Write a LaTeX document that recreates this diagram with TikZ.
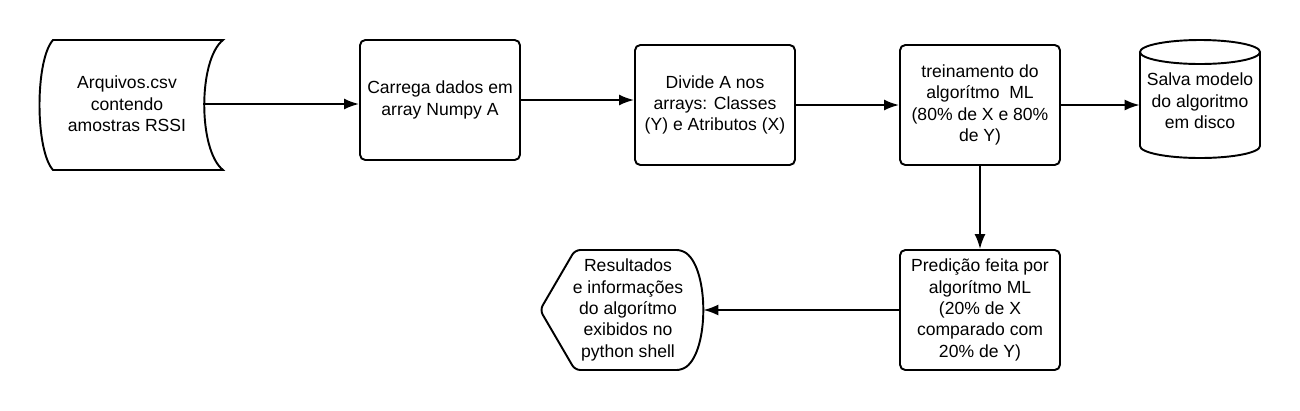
\documentclass[tikz,border=0pt]{standalone}
\usepackage{fontspec}
\setmainfont{Liberation Sans}
\usetikzlibrary{positioning, arrows.meta}
\tikzset{
	txt/.style={align=center, font=\fontsize{10}{12.2}\selectfont},
	process/.style={txt, draw, line width=1.1pt, rounded corners=3pt, minimum width=3.2cm, minimum height=2.4cm},
	outline/.style={line width=1.1pt},
	flow/.style={line width=1.1pt, -{Latex[length=3mm, width=2.2mm]}},
}

\begin{document}
\begin{tikzpicture}[x=0.02cm, y=-0.02cm]
		\useasboundingbox (0,0) rectangle (1300,410);

		% stored data
		\draw[outline] (53,40) -- (223,40) .. controls (198,60) and (198,150) .. (223,170) -- (53,170) .. controls (35,150) and (35,60) .. cycle;
		\node[txt, minimum width=3.04cm] (csv) at (127,104) {Arquivos.csv\\contendo\\amostras RSSI};

		\node[process] (load) at (440,100) {Carrega dados em\\array Numpy A};
		\node[process] (split) at (715,105) {Divide A nos\\arrays: Classes\\(Y) e Atributos (X)};
		\node[process] (train) at (980,105) {treinamento do\\algorítmo~~ML\\(80\% de X e 80\%\\de Y)};
		\node[process] (pred) at (980,310) {Predição feita por\\algorítmo ML\\(20\% de X\\comparado com\\20\% de Y)};

		% disk
		\draw[outline] (1200,52) ellipse [x radius=1.2cm, y radius=0.24cm];
		\draw[outline] (1140,52) -- (1140,146) arc[start angle=180, end angle=360, x radius=1.2cm, y radius=0.24cm] -- (1260,52);
		\node[txt, minimum width=2.4cm] (disk) at (1200,101) {Salva modelo\\do algoritmo\\em disco};

		% display
		\draw[outline, rounded corners=3pt] (540,310) -- (575,250) -- (682,250) .. controls (709,270) and (709,350) .. (682,370) -- (575,370) -- cycle;
		\node[txt, minimum width=3cm] (shell) at (628,310) {Resultados\\e informações\\do algorítmo\\exibidos no\\python shell};

		\draw[flow] (csv.east) -- (csv.east -| load.west);
		\draw[flow] (load.east) -- (load.east -| split.west);
		\draw[flow] (split) -- (train);
		\draw[flow] (train.east) -- (train.east -| disk.west);
		\draw[flow] (train) -- (pred);
		\draw[flow] (pred) -- (shell);
	\end{tikzpicture}
\end{document}
